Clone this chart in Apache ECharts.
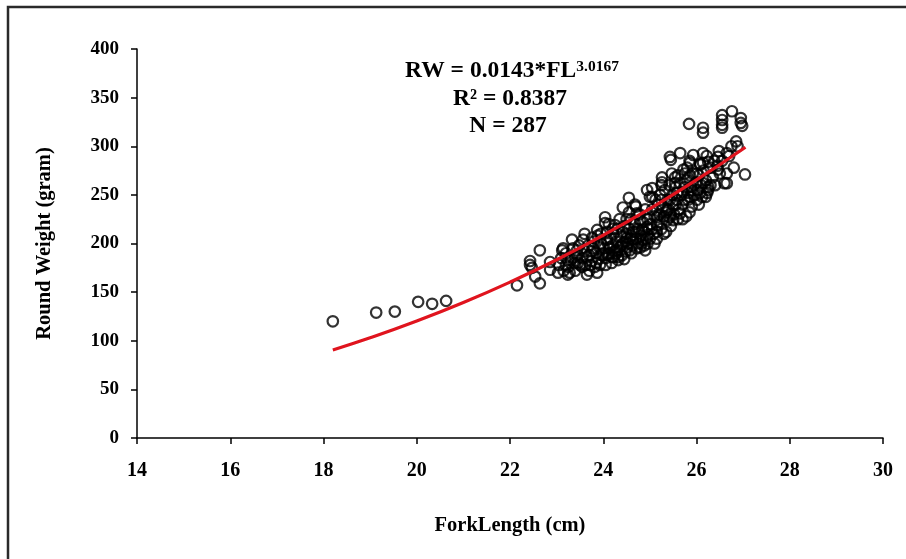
<!DOCTYPE html>
<html><head><meta charset="utf-8">
<script src="https://cdn.jsdelivr.net/npm/echarts@6/dist/echarts.min.js"></script>
<style>html,body{margin:0;padding:0;background:#fff}#c{width:906px;height:559px}</style>
</head><body><div id="c"></div>
<script>
// Fork length (cm) vs round weight (gram)
const samples = [
[18.20,120],[19.13,129],[19.53,130],[20.03,140],[20.33,138],[20.63,141],[22.15,157],
[22.43,182],[22.43,178],[22.47,175],[22.64,193],[22.54,166],[22.64,159],[22.86,181],[22.86,173],[23.03,170],[23.24,168],
[23.14,195],[23.33,204],[23.24,183],[23.44,193],[23.46,180],[23.65,186],[23.57,204],[23.76,206],[23.72,178],[23.87,170],
[23.93,178],[23.87,214],[24.04,227],[24.04,221],[24.08,204],[24.14,196],[24.19,186],[24.30,193],[24.32,186],[24.25,219],
[24.42,212],[24.51,206],[24.42,237],[24.55,247],[24.68,240],[24.72,231],[24.51,196],[24.64,204],[24.57,193],[24.79,224],
[24.83,214],[24.94,217],[24.85,204],[24.96,209],[24.90,193],[24.94,255],[25.05,257],[25.00,248],[25.15,234],[25.15,227],
[25.15,219],[25.15,212],[25.26,263],[25.26,268],[25.37,234],[25.43,227],[25.37,224],[25.50,224],[25.65,231],[25.43,245],
[25.58,252],[25.54,262],[25.71,253],[25.75,272],[25.47,272],[25.54,268],[25.86,270],[26.01,263],[25.82,252],[25.86,248],
[26.01,245],[26.14,262],[26.25,255],[26.08,252],[26.23,252],[25.43,289],[25.65,293],[25.93,291],[26.14,293],[26.25,284],
[26.46,289],[26.65,293],[26.14,283],[26.46,276],[26.65,272],[26.65,262],[27.04,271],[25.80,278],[25.86,283],[26.08,281],
[26.01,272],[25.84,323],[26.14,319],[26.14,314],[26.55,332],[26.55,327],[26.55,322],[26.55,319],[26.76,336],[26.95,329],
[26.95,324],[26.98,321],[26.85,305],[26.88,300],[25.45,286],
[23.05,178],[23.10,185],[23.15,172],[23.20,190],[23.25,176],[23.30,183],[23.35,195],[23.40,172],[23.45,188],[23.50,178],
[23.12,193],[23.28,170],[23.38,180],[23.48,198],
[23.55,185],[23.60,192],[23.62,178],[23.68,198],[23.70,188],[23.75,182],[23.78,195],[23.80,202],[23.82,176],[23.85,190],
[23.88,208],[23.90,184],[23.92,196],[23.95,200],[23.98,188],[23.60,210],[23.70,172],[23.65,168],
[24.02,195],[24.05,185],[24.08,212],[24.10,200],[24.12,190],[24.15,205],[24.18,180],[24.20,198],[24.22,210],[24.25,192],
[24.28,202],[24.30,215],[24.32,183],[24.35,196],[24.38,207],[24.40,188],[24.42,200],[24.45,218],[24.48,192],[24.50,210],
[24.12,220],[24.22,186],[24.35,225],[24.45,184],[24.05,178],
[24.52,200],[24.55,215],[24.58,205],[24.60,225],[24.62,198],[24.65,212],[24.68,220],[24.70,205],[24.72,195],[24.75,215],
[24.78,230],[24.80,208],[24.82,200],[24.85,222],[24.88,212],[24.90,235],[24.92,205],[24.95,225],[24.98,215],[24.60,190],
[24.75,200],[24.88,198],[24.70,238],[24.55,232],
[25.02,220],[25.05,235],[25.08,210],[25.10,228],[25.12,245],[25.15,205],[25.18,240],[25.20,222],[25.22,250],[25.25,215],
[25.28,238],[25.30,228],[25.32,255],[25.35,212],[25.38,245],[25.40,235],[25.42,260],[25.45,218],[25.48,250],[25.50,240],
[25.10,200],[25.25,260],[25.35,232],[25.05,248],
[25.52,230],[25.55,258],[25.58,245],[25.60,270],[25.62,235],[25.65,262],[25.68,250],[25.70,240],[25.72,276],[25.75,258],
[25.78,228],[25.80,265],[25.82,245],[25.85,285],[25.88,258],[25.90,238],[25.92,272],[25.95,250],[25.98,262],[25.70,225],
[25.85,232],
[26.02,255],[26.05,270],[26.08,282],[26.10,260],[26.12,248],[26.15,275],[26.20,265],[26.22,290],[26.25,258],[26.30,278],
[26.35,268],[26.38,285],[26.40,260],[26.45,280],[26.50,272],[26.48,295],
[26.55,285],[26.60,262],[26.70,290],[26.75,300],[26.80,278],
[23.55,176],[23.75,192],[23.95,210],[24.10,188],[24.28,190],[24.38,198],[24.48,202],[24.60,208],[24.70,212],[24.80,196],
[24.95,200],[25.05,215],[25.20,230],[25.30,210],[25.45,230],[25.55,240],[25.60,225],[25.75,245],[25.90,255],[26.05,240],
[26.20,248],[26.30,260],[24.20,215],[24.50,225],[24.00,190],[23.85,180],[23.40,186],[23.20,178],[25.00,205],[25.25,245]
];
// Fitted curve RW = 0.0143*FL^3.0167, values read at these lengths
const fitLength = [18.2, 19, 20, 21, 22, 23, 24, 25, 26, 27.05];
const fitWeight = [90.5, 103.0, 120.3, 139.3, 160.3, 183.3, 208.5, 235.8, 265.4, 299.0];

const FONT = '"Liberation Serif","Times New Roman",serif';
const chart = echarts.init(document.getElementById('c'), null, {renderer:'canvas'});
const labelText = {fontFamily:FONT, fontWeight:'bold', fontSize:20, color:'#000'};
const nameText = {fontFamily:FONT, fontWeight:'bold', fontSize:20.5, color:'#000'};
chart.setOption({
  animation:false,
  backgroundColor:'#fff',
  grid:{left:137, right:23, top:49, bottom:121},
  xAxis:{
    type:'value', min:14, max:30, interval:2,
    name:'ForkLength (cm)', nameLocation:'middle', nameGap:77,
    nameTextStyle:nameText,
    axisLine:{show:true, lineStyle:{color:'#000', width:1.5}},
    axisTick:{show:true, length:6, lineStyle:{color:'#000', width:1.5}},
    axisLabel:Object.assign({margin:23}, labelText),
    splitLine:{show:false}
  },
  yAxis:{
    type:'value', min:0, max:400, interval:50,
    name:'Round Weight (gram)', nameLocation:'middle', nameGap:82, nameRotate:90,
    nameTextStyle:nameText,
    axisLine:{show:true, lineStyle:{color:'#000', width:1.5}},
    axisTick:{show:true, length:6, lineStyle:{color:'#000', width:1.5}},
    axisLabel:Object.assign({margin:18}, labelText, {fontSize:19}),
    splitLine:{show:false}
  },
  series:[
    {type:'scatter', data:samples, symbol:'circle', symbolSize:10.5, z:2,
     itemStyle:{color:'rgba(0,0,0,0)', borderColor:'#000', borderWidth:2.2}},
    {type:'line', data:fitLength.map((x,i)=>[x, fitWeight[i]]), smooth:true, showSymbol:false, z:3,
     lineStyle:{color:'#e0141e', width:3.2}}
  ],
  graphic:[
    {type:'rect', shape:{x:8, y:7, width:1200, height:1200}, style:{fill:'none', stroke:'#2a2a2a', lineWidth:2.5}, silent:true},
    {type:'text', x:512, y:71, style:{text:'{m|RW = 0.0143*FL}{s|3.0167}', textAlign:'center', textVerticalAlign:'middle',
      rich:{m:{fontFamily:FONT, fontWeight:'bold', fontSize:23.5, fill:'#000'},
            s:{fontFamily:FONT, fontWeight:'bold', fontSize:15.5, fill:'#000', verticalAlign:'top'}}}},
    {type:'text', x:510, y:99, style:{text:'R² = 0.8387', textAlign:'center', textVerticalAlign:'middle',
      fontFamily:FONT, fontWeight:'bold', fontSize:23.5, fill:'#000'}},
    {type:'text', x:508, y:126, style:{text:'N = 287', textAlign:'center', textVerticalAlign:'middle',
      fontFamily:FONT, fontWeight:'bold', fontSize:23.5, fill:'#000'}}
  ]
});
</script>
</body></html>
